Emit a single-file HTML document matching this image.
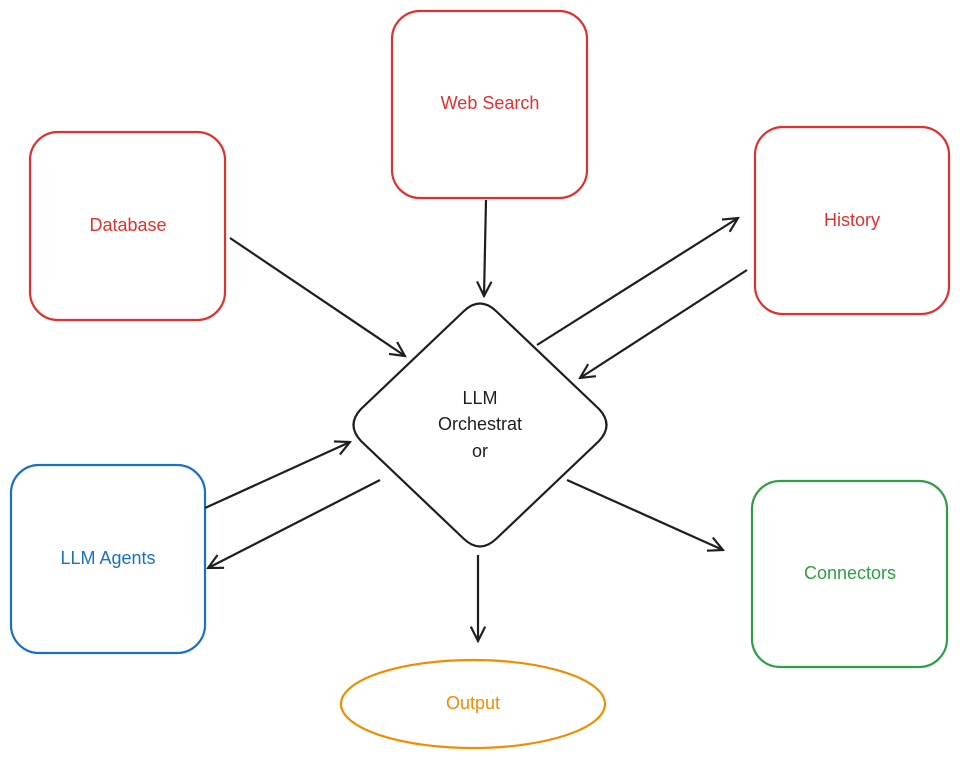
<!DOCTYPE html>
<html><head><meta charset="utf-8"><style>
html,body{margin:0;padding:0;background:#fff;}
svg{display:block;}
text{font-family:"Liberation Sans",sans-serif;font-size:18px;text-anchor:middle;dominant-baseline:middle;}
</style></head><body>
<svg width="960" height="762" viewBox="0 0 960 762" xmlns="http://www.w3.org/2000/svg">
<defs>
<marker id="a" viewBox="0 0 20 20" refX="18" refY="10" markerWidth="18" markerHeight="18" markerUnits="userSpaceOnUse" orient="auto">
<path d="M2 2 L18 10 L2 18" fill="none" stroke="#1e1e1e" stroke-width="2.4"/>
</marker>
</defs>
<g fill="none" stroke-width="2.2">
<rect x="392" y="11" width="195" height="187" rx="28" stroke="#e03131"/>
<rect x="30" y="132" width="195" height="188" rx="28" stroke="#e03131"/>
<rect x="755" y="127" width="194" height="187" rx="28" stroke="#e03131"/>
<rect x="11" y="465" width="194" height="188" rx="28" stroke="#1971c2"/>
<rect x="752" y="481" width="195" height="186" rx="28" stroke="#2f9e44"/>
<ellipse cx="473" cy="704" rx="132" ry="44" stroke="#f08c00"/>
<path d="M464 311 Q480 296 496 311 L599 409 Q614 425 599 441 L496 539 Q480 554 464 539 L361 441 Q346 425 361 409 Z" stroke="#1e1e1e"/>
</g>
<g stroke="#1e1e1e" stroke-width="2.2" fill="none" marker-end="url(#a)">
<line x1="486" y1="200" x2="484" y2="296"/>
<line x1="230" y1="238" x2="405" y2="356"/>
<line x1="537" y1="345" x2="738" y2="218"/>
<line x1="747" y1="270" x2="580" y2="378"/>
<line x1="205" y1="508" x2="350" y2="442"/>
<line x1="380" y1="480" x2="208" y2="568"/>
<line x1="567" y1="480" x2="723" y2="550"/>
<line x1="478" y1="555" x2="478" y2="641"/>
</g>
<text x="490" y="104" fill="#e03131">Web Search</text>
<text x="128" y="226" fill="#e03131">Database</text>
<text x="852" y="221" fill="#e03131">History</text>
<text x="108" y="559" fill="#1971c2">LLM Agents</text>
<text x="850" y="574" fill="#2f9e44">Connectors</text>
<text x="473" y="704" fill="#f08c00">Output</text>
<text x="480" y="399" fill="#1e1e1e">LLM</text>
<text x="480" y="425" fill="#1e1e1e">Orchestrat</text>
<text x="480" y="452" fill="#1e1e1e">or</text>
</svg>
</body></html>
